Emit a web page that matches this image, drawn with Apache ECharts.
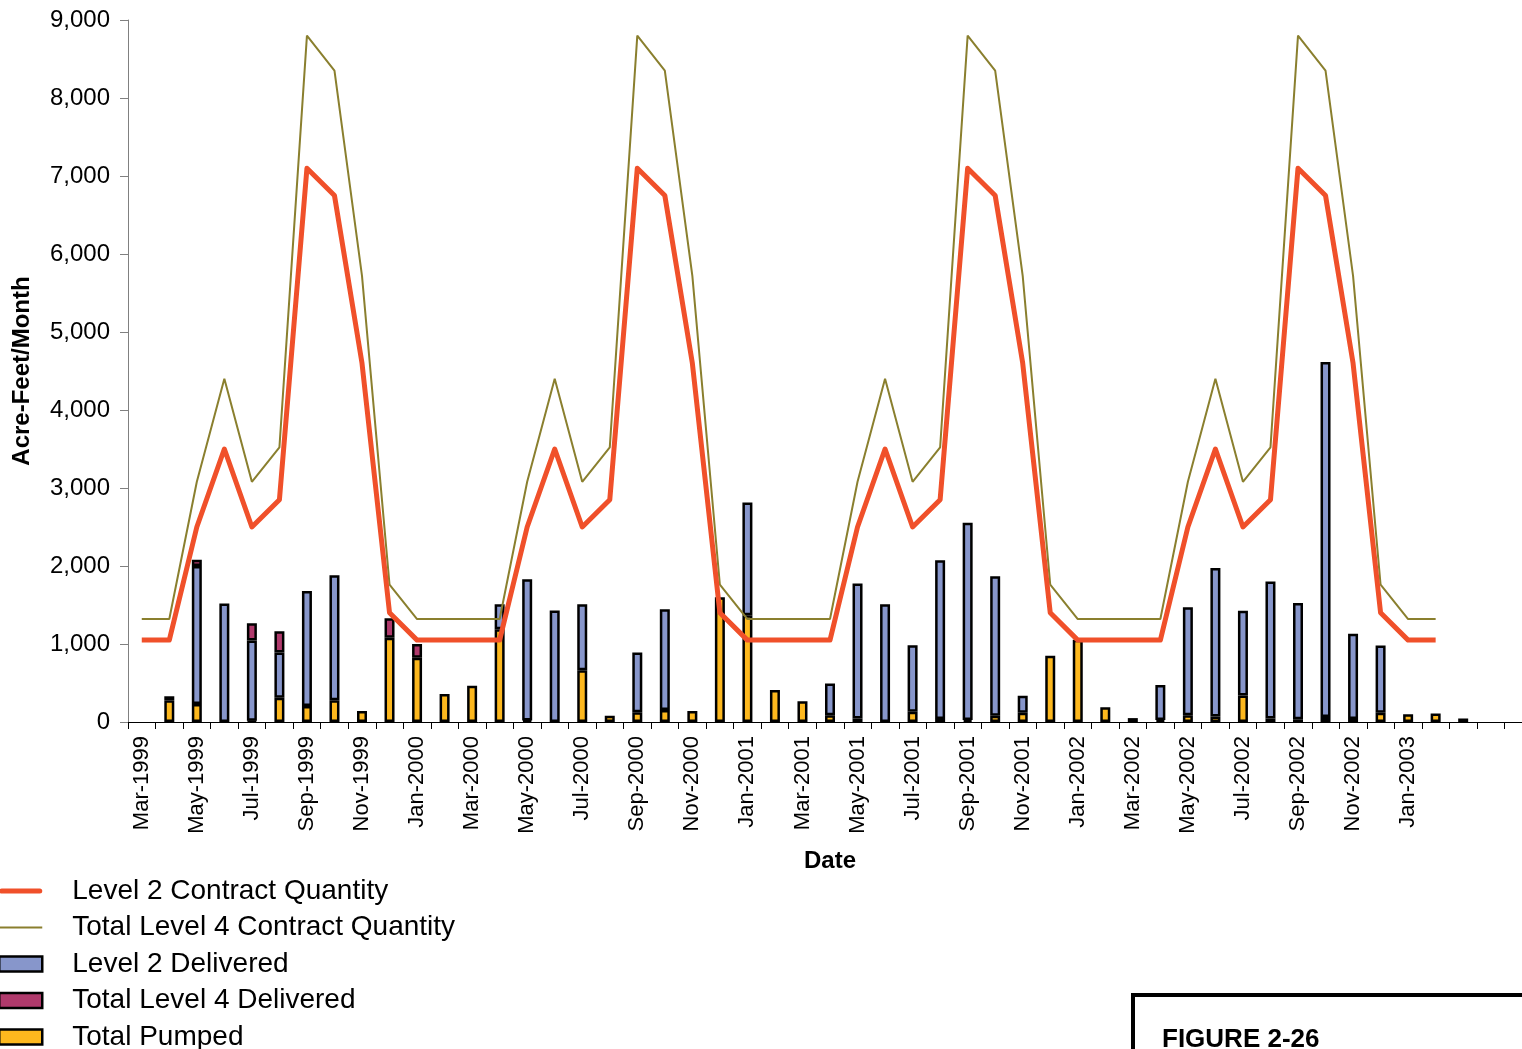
<!DOCTYPE html>
<html>
<head>
<meta charset="utf-8">
<title>Acre-Feet per Month</title>
<script src="https://cdn.jsdelivr.net/npm/echarts@6/dist/echarts.min.js"></script>
<style>
  html, body { margin: 0; padding: 0; overflow: hidden; background: #fff; }
  #chart { width: 1600px; height: 1049px; }
</style>
</head>
<body>
<div id="chart"></div>
<script>
// Month categories; the last slots on the axis carry no label.
const months = [
  'Mar-1999','Apr-1999','May-1999','Jun-1999','Jul-1999','Aug-1999','Sep-1999','Oct-1999','Nov-1999','Dec-1999',
  'Jan-2000','Feb-2000','Mar-2000','Apr-2000','May-2000','Jun-2000','Jul-2000','Aug-2000','Sep-2000','Oct-2000','Nov-2000','Dec-2000',
  'Jan-2001','Feb-2001','Mar-2001','Apr-2001','May-2001','Jun-2001','Jul-2001','Aug-2001','Sep-2001','Oct-2001','Nov-2001','Dec-2001',
  'Jan-2002','Feb-2002','Mar-2002','Apr-2002','May-2002','Jun-2002','Jul-2002','Aug-2002','Sep-2002','Oct-2002','Nov-2002','Dec-2002',
  'Jan-2003','Feb-2003','','',''
];

// Contract quantities (acre-feet per month)
const level2Contract = [
  1050, 1050,
  2500, 3500, 2500, 2850, 7100, 6750, 4600, 1400, 1050, 1050, 1050, 1050,
  2500, 3500, 2500, 2850, 7100, 6750, 4600, 1400, 1050, 1050, 1050, 1050,
  2500, 3500, 2500, 2850, 7100, 6750, 4600, 1400, 1050, 1050, 1050, 1050,
  2500, 3500, 2500, 2850, 7100, 6750, 4600, 1400, 1050, 1050
];
const level4Contract = [
  1320, 1320,
  3080, 4400, 3080, 3520, 8800, 8350, 5720, 1760, 1320, 1320, 1320, 1320,
  3080, 4400, 3080, 3520, 8800, 8350, 5720, 1760, 1320, 1320, 1320, 1320,
  3080, 4400, 3080, 3520, 8800, 8350, 5720, 1760, 1320, 1320, 1320, 1320,
  3080, 4400, 3080, 3520, 8800, 8350, 5720, 1760, 1320, 1320
];

// Monthly deliveries (stacked: pumped at the bottom, then Level 2, then Level 4)
const totalPumped = [
  null, 280, 230, null, 15, 310, 205, 280, 140, 1080,
  825, 360, 465, 1190, 20, null, 665, 80, 125, 155, 140, 1600,
  1370, 410, 265, 85, 45, null, 130, 40, 25, 80, 120, 850,
  1055, 190, 50, 25, 85, 70, 340, 45, 35, 65, 40, 120,
  100, 110, 45, null, null
];
const level2Delivered = [
  null, 50, 1770, 1520, 1030, 580, 1475, 1600, null, null,
  null, null, null, 320, 1810, 1430, 845, null, 765, 1290, null, null,
  1445, null, null, 410, 1730, 1510, 855, 2035, 2530, 1790, 215, null,
  null, null, null, 450, 1385, 1905, 1085, 1755, 1490, 4550, 1090, 860,
  null, null, null, null, null
];
const level4Delivered = [
  null, null, 80, null, 220, 275, null, null, null, 250,
  175, null, null, null, null, null, null, null, null, null, null, null,
  null, null, null, null, null, null, null, null, null, null, null, null,
  null, null, null, null, null, null, null, null, null, null, null, null,
  null, null, null, null, null
];

const yTicks = { min: 0, max: 9000, interval: 1000 };

const FONT = "'Liberation Sans', Arial, Helvetica, sans-serif";
const COLORS = {
  l2Line: '#F0502A',
  l4Line: '#8A7F2E',
  l2Bar: '#8796CB',
  l4Bar: '#B03A6C',
  pumped: '#FDB81E'
};

// Legend glyphs for the two line series: plain strokes, no point marker
const THICK_LINE_ICON = 'path://M2.5,0 L40.5,0 A2.5,2.5 0 0 1 40.5,5 L2.5,5 A2.5,2.5 0 0 1 2.5,0 Z';
const THIN_LINE_ICON = 'path://M0,0 L43,0 L43,2 L0,2 Z';

const chart = echarts.init(document.getElementById('chart'), null, { renderer: 'canvas' });

const barBase = {
  type: 'bar',
  stack: 'delivered',
  barWidth: 10,
  z: 2
};

const barLegendStyle = { borderColor: '#000', borderWidth: 2.5 };

chart.setOption({
  animation: false,
  backgroundColor: '#fff',
  textStyle: { fontFamily: FONT, color: '#000' },
  grid: { left: 128, top: 20, width: 1404, height: 702, containLabel: false },
  legend: {
    orient: 'vertical',
    left: -2,
    top: 876,
    height: 400,
    padding: 0,
    itemWidth: 43,
    itemHeight: 15,
    itemGap: 6.5,
    textStyle: { fontSize: 28, lineHeight: 30, color: '#000', fontFamily: FONT, padding: [0, 0, 0, 25] },
    data: [
      { name: 'Level 2 Contract Quantity', icon: THICK_LINE_ICON },
      { name: 'Total Level 4 Contract Quantity', icon: THIN_LINE_ICON },
      { name: 'Level 2 Delivered', icon: 'rect', itemStyle: barLegendStyle },
      { name: 'Total Level 4 Delivered', icon: 'rect', itemStyle: barLegendStyle },
      { name: 'Total Pumped', icon: 'rect', itemStyle: barLegendStyle }
    ]
  },
  xAxis: {
    type: 'category',
    data: months,
    boundaryGap: true,
    name: 'Date',
    nameLocation: 'middle',
    nameGap: 127,
    nameTextStyle: { fontSize: 24, fontWeight: 'bold', color: '#000', fontFamily: FONT },
    axisLine: { lineStyle: { color: '#000', width: 1 } },
    axisTick: { show: true, interval: 0, length: 7, inside: false, lineStyle: { color: '#000', width: 1 } },
    axisLabel: {
      interval: 1,
      rotate: 90,
      margin: 14,
      fontSize: 22,
      color: '#000',
      fontFamily: FONT
    },
    splitLine: { show: false }
  },
  yAxis: {
    type: 'value',
    min: yTicks.min,
    max: yTicks.max,
    interval: yTicks.interval,
    name: 'Acre-Feet/Month',
    nameLocation: 'middle',
    nameGap: 94,
    nameRotate: 90,
    nameTextStyle: { fontSize: 24, fontWeight: 'bold', color: '#000', fontFamily: FONT },
    axisLine: { show: true, lineStyle: { color: '#808080', width: 1 } },
    axisTick: { show: true, length: 8, lineStyle: { color: '#808080', width: 1 } },
    axisLabel: {
      margin: 18,
      fontSize: 24,
      color: '#000',
      fontFamily: FONT,
      formatter: v => v.toLocaleString('en-US')
    },
    splitLine: { show: false }
  },
  series: [
    Object.assign({}, barBase, {
      name: 'Total Pumped',
      data: totalPumped,
      itemStyle: { color: COLORS.pumped, borderColor: '#000', borderWidth: 2.5 }
    }),
    Object.assign({}, barBase, {
      name: 'Level 2 Delivered',
      data: level2Delivered,
      itemStyle: { color: COLORS.l2Bar, borderColor: '#000', borderWidth: 2.5 }
    }),
    Object.assign({}, barBase, {
      name: 'Total Level 4 Delivered',
      data: level4Delivered,
      itemStyle: { color: COLORS.l4Bar, borderColor: '#000', borderWidth: 2.5 }
    }),
    {
      name: 'Level 2 Contract Quantity',
      type: 'line',
      data: level2Contract,
      symbol: 'none',
      z: 4,
      lineStyle: { color: COLORS.l2Line, width: 5, join: 'round' },
      itemStyle: { color: COLORS.l2Line }
    },
    {
      name: 'Total Level 4 Contract Quantity',
      type: 'line',
      data: level4Contract,
      symbol: 'none',
      z: 3,
      lineStyle: { color: COLORS.l4Line, width: 2 },
      itemStyle: { color: COLORS.l4Line }
    }
  ],
  graphic: [
    {
      type: 'rect',
      left: 1131,
      top: 993,
      shape: { width: 500, height: 120 },
      style: { fill: '#fff', stroke: '#000', lineWidth: 4 },
      z: 10
    },
    {
      type: 'text',
      left: 1162,
      top: 1027,
      style: { text: 'FIGURE 2-26', font: "bold 26px 'Liberation Sans', Arial, sans-serif", fill: '#000' },
      z: 11
    }
  ]
});
</script>
</body>
</html>
